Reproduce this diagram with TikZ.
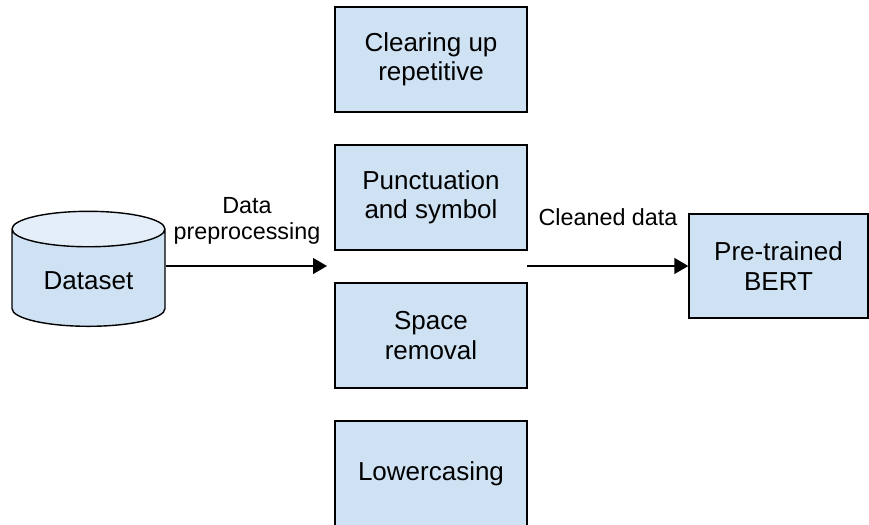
\documentclass[tikz,border=0pt]{standalone}
\usepackage{fontspec}
\setmainfont{Liberation Sans}
\usetikzlibrary{shapes.geometric,arrows.meta}
\definecolor{cajaazul}{HTML}{CFE2F3}
\definecolor{tapaazul}{HTML}{E3EEF9}

\begin{document}
\begin{tikzpicture}[   % default options
  x=0.75pt,          % one unit is one pixel of the sketch
  y=-0.75pt,         % y grows downwards
  line width=1.05pt, % border width
  draw=black
]
  \tikzstyle{stagebox}=[draw, fill=cajaazul, minimum width=144pt, minimum height=78.75pt, align=center, font=\fontsize{19.5}{22}\selectfont];
  \tikzstyle{flowlabel}=[align=center, font=\fontsize{17.5}{20}\selectfont];
  \tikzstyle{flow}=[-{Triangle[length=10.5pt,width=12pt]}];
  %
  \useasboundingbox (0,0) rectangle (869,525);
  %
  % column with the cleaning steps
  \node [stagebox] (repeat) at (431,59.5)  {Clearing up\\repetitive};
  \node [stagebox] (punct)  at (431,197.5) {Punctuation\\and symbol};
  \node [stagebox] (space)  at (431,335.5) {Space\\removal};
  \node [stagebox] (lower)  at (431,473.5) {Lowercasing};
  %
  % input data
  \node [cylinder, shape border rotate=90, aspect=0.36, draw,
         minimum width=114.75pt, minimum height=86.25pt,
         cylinder uses custom fill, cylinder body fill=cajaazul,
         cylinder end fill=tapaazul,
         font=\fontsize{19.5}{22}\selectfont] (dataset) at (88.5,281) {Dataset};
  %
  % model
  \node [stagebox, minimum width=134.25pt, minimum height=78pt] (bert) at (778.5,266) {Pre-trained\\BERT};
  %
  % arrow into and out of the column
  \coordinate (gapin)  at (327,266);
  \coordinate (gapout) at (527,266);
  \draw[flow] (dataset.east |- gapin) -- (gapin);
  \draw[flow] (gapout) -- (bert.west);
  %
  % labels of the arrows
  \node [flowlabel] (preplbl)  at (247,221) {Data\\preprocessing};
  \node [flowlabel] (cleanlbl) at (608,217) {Cleaned data};
\end{tikzpicture}
\end{document}
